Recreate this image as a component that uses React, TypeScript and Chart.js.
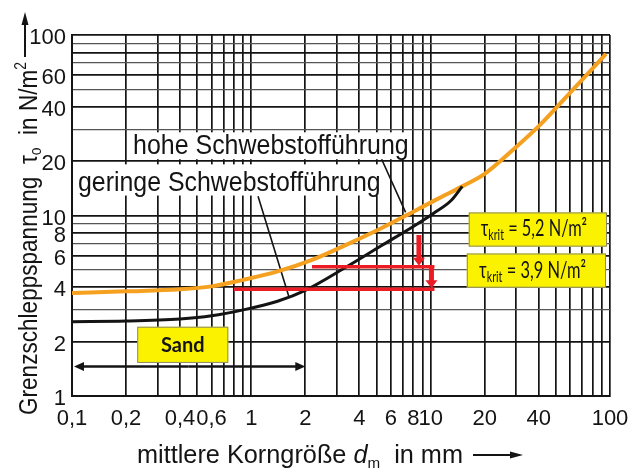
import { useEffect, useRef } from 'react';
import { Chart, registerables } from 'chart.js';

Chart.register(...registerables);

// Mittlere Korngröße d_m [mm] und Grenzschleppspannung τ0 [N/m²]
const HOHE_D = [0.1, 0.2, 0.4, 0.6, 0.9, 1.4, 2.2, 3.4, 5.3, 8, 11, 15, 20, 29, 41, 60, 95];
const HOHE_TAU = [3.72, 3.8, 3.9, 4.05, 4.4, 4.9, 5.7, 6.9, 8.5, 10.5, 12.4, 14.5, 17, 23.3, 32, 48, 78.5];
const GERINGE_D = [0.1, 0.2, 0.4, 0.6, 0.9, 1.4, 2, 3.4, 5.3, 8, 10.4, 13, 15];
const GERINGE_TAU = [2.58, 2.6, 2.67, 2.78, 3.0, 3.35, 3.85, 5.2, 6.8, 8.7, 10.3, 12.1, 14.5];

// Kritische Schubspannungen
const TAU_KRIT = [5.2, 3.9];
const TAU_KRIT_TEXT = ['5,2', '3,9'];
const TAU_KRIT_FROM_D = [2.18, 0.8];
const TAU_KRIT_TO_D = 10.5;
const ARROW_D = [8.6, 10.1];
const ARROW_START_TAU = 7.8;

// Sandbereich
const SAND_RANGE = [0.1, 2];

// Gitter und Beschriftung
const D_GRID = [
  0.1, 0.2, 0.3, 0.4, 0.5, 0.6, 0.7, 0.8, 0.9,
  1, 2, 3, 4, 5, 6, 7, 8, 9,
  10, 20, 30, 40, 50, 60, 70, 80, 90, 100,
];
const D_LABELS = [0.1, 0.2, 0.4, 0.6, 1, 2, 4, 6, 8, 10, 20, 40, 100];
const TAU_GRID = [1, 2, 3, 4, 5, 6, 7, 8, 9, 10, 20, 30, 40, 50, 60, 70, 80, 90, 100];
const TAU_LABELS = [1, 2, 4, 6, 8, 10, 20, 40, 60, 100];

const SANS = '"Liberation Sans", Arial, sans-serif';
const NARROW = '"Liberation Sans Narrow", "Liberation Sans", sans-serif';
const BOX_FONT = 'Lato, "Open Sans", "DejaVu Sans", sans-serif';
const INK = '#141414';
const RED = '#ec1c24';
const YELLOW = '#fbf200';
const ORANGE = '#f5a01e';

type Run = { t: string; size: number; dy?: number; italic?: boolean; bold?: boolean };

function runFont(r: Run, fam: string) {
  return `${r.italic ? 'italic ' : ''}${r.bold ? 'bold ' : ''}${r.size}px ${fam}`;
}

// Draws a sequence of text runs on one baseline, optionally squeezed to a width
function drawRuns(ctx: CanvasRenderingContext2D, runs: Run[], fam: string, x: number, y: number, width?: number) {
  const ws = runs.map((r) => {
    ctx.font = runFont(r, fam);
    return ctx.measureText(r.t).width;
  });
  const total = ws.reduce((a, b) => a + b, 0);
  const s = width ? width / total : 1;
  ctx.save();
  ctx.translate(x, y);
  ctx.scale(s, 1);
  ctx.textAlign = 'left';
  ctx.textBaseline = 'alphabetic';
  let cx = 0;
  runs.forEach((r, i) => {
    ctx.font = runFont(r, fam);
    ctx.fillText(r.t, cx, r.dy || 0);
    cx += ws[i];
  });
  ctx.restore();
}

function arrow(
  ctx: CanvasRenderingContext2D,
  x0: number, y0: number, x1: number, y1: number,
  width: number, head: number, headW: number, color: string,
) {
  const ang = Math.atan2(y1 - y0, x1 - x0);
  const len = Math.hypot(x1 - x0, y1 - y0);
  ctx.save();
  ctx.translate(x0, y0);
  ctx.rotate(ang);
  ctx.strokeStyle = color;
  ctx.lineWidth = width;
  ctx.lineCap = 'butt';
  ctx.beginPath();
  ctx.moveTo(0, 0);
  ctx.lineTo(len - head + 1, 0);
  ctx.stroke();
  ctx.fillStyle = color;
  ctx.beginPath();
  ctx.moveTo(len, 0);
  ctx.lineTo(len - head, headW / 2);
  ctx.lineTo(len - head, -headW / 2);
  ctx.closePath();
  ctx.fill();
  ctx.restore();
}

function fmt(v: number) {
  return String(v).replace('.', ',');
}

function significand(v: number) {
  return Math.round(v / Math.pow(10, Math.floor(Math.log10(v) + 1e-9)));
}

const overlay = {
  id: 'overlay',
  beforeDatasetsDraw(chart: any) {
    const { ctx } = chart;
    const X = (v: number) => chart.scales.x.getPixelForValue(v);
    const Y = (v: number) => chart.scales.y.getPixelForValue(v);
    ctx.save();
    // label backgrounds
    ctx.fillStyle = '#ffffff';
    ctx.fillRect(X(0.2055), Y(28.9), X(7.73) - X(0.2055), Y(20.5) - Y(28.9));
    ctx.fillRect(X(0.1013), Y(19.2), X(5.82) - X(0.1013), Y(12.9) - Y(19.2));
    ctx.fillStyle = INK;
    drawRuns(ctx, [{ t: 'hohe Schwebstofführung', size: 27 }], SANS, X(0.219), Y(21.8), X(7.54) - X(0.219));
    drawRuns(ctx, [{ t: 'geringe Schwebstofführung', size: 27 }], SANS, X(0.108), Y(13.6), X(5.26) - X(0.108));
    // leader lines
    ctx.strokeStyle = INK;
    ctx.lineWidth = 1.6;
    ctx.beginPath();
    ctx.moveTo(X(5.33), Y(20.5));
    ctx.lineTo(X(7.25), Y(10.4));
    ctx.moveTo(X(1.09), Y(12.8));
    ctx.lineTo(X(1.62), Y(3.55));
    ctx.stroke();
    ctx.restore();
  },
  afterDatasetsDraw(chart: any) {
    const { ctx } = chart;
    const X = (v: number) => chart.scales.x.getPixelForValue(v);
    const Y = (v: number) => chart.scales.y.getPixelForValue(v);
    ctx.save();

    // critical shear stress lines
    ctx.strokeStyle = RED;
    ctx.lineWidth = 3.5;
    TAU_KRIT.forEach((t, i) => {
      ctx.beginPath();
      ctx.moveTo(X(TAU_KRIT_FROM_D[i]), Y(t));
      ctx.lineTo(X(TAU_KRIT_TO_D), Y(t));
      ctx.stroke();
    });
    arrow(ctx, X(ARROW_D[0]), Y(ARROW_START_TAU), X(ARROW_D[0]), Y(TAU_KRIT[0]) - 1, 5, 8, 12, RED);
    arrow(ctx, X(ARROW_D[1]), Y(TAU_KRIT[0]), X(ARROW_D[1]), Y(TAU_KRIT[1]) - 1, 5, 8, 12, RED);

    // value boxes
    const boxes = [
      { d0: 16.3, d1: 96.2, t0: 6.72, t1: 10.4, td0: 19.0, td1: 74.5, base: 7.84 },
      { d0: 15.9, d1: 95, t0: 3.98, t1: 6.16, td0: 18.6, td1: 73.5, base: 4.58 },
    ];
    boxes.forEach((b, i) => {
      const x0 = X(b.d0), x1 = X(b.d1), y0 = Y(b.t1), y1 = Y(b.t0);
      ctx.fillStyle = YELLOW;
      ctx.fillRect(x0, y0, x1 - x0, y1 - y0);
      ctx.strokeStyle = '#8a8a6a';
      ctx.lineWidth = 1;
      ctx.strokeRect(x0 + 0.5, y0 + 0.5, x1 - x0 - 1, y1 - y0 - 1);
      ctx.fillStyle = INK;
      drawRuns(ctx, [
        { t: 'τ', size: 23 },
        { t: 'krit', size: 15, dy: 4 },
        { t: ` = ${TAU_KRIT_TEXT[i]} N/m²`, size: 23 },
      ], BOX_FONT, X(b.td0), Y(b.base) + 1, X(b.td1) - X(b.td0));
    });

    // sand range
    const sx0 = X(0.231), sx1 = X(0.744), sy0 = Y(2.42), sy1 = Y(1.525);
    ctx.fillStyle = YELLOW;
    ctx.fillRect(sx0, sy0, sx1 - sx0, sy1 - sy0);
    ctx.strokeStyle = '#8a8a6a';
    ctx.lineWidth = 1;
    ctx.strokeRect(sx0 + 0.5, sy0 + 0.5, sx1 - sx0 - 1, sy1 - sy0 - 1);
    ctx.fillStyle = INK;
    ctx.font = `bold 20px ${BOX_FONT}`;
    ctx.textAlign = 'center';
    ctx.textBaseline = 'middle';
    ctx.fillText('Sand', (sx0 + sx1) / 2, (sy0 + sy1) / 2 + 1);
    const ay = Y(1.455);
    const mid = (X(SAND_RANGE[0]) + X(SAND_RANGE[1])) / 2;
    arrow(ctx, mid, ay, X(SAND_RANGE[0]) + 2, ay, 2.5, 10, 9, INK);
    arrow(ctx, mid, ay, X(SAND_RANGE[1]), ay, 2.5, 10, 9, INK);
    ctx.restore();
  },
  afterDraw(chart: any) {
    const { ctx, chartArea } = chart;
    ctx.save();
    ctx.fillStyle = INK;
    // x axis title
    const bx = chartArea.left + 65;
    const by = chartArea.bottom + 67;
    drawRuns(ctx, [
      { t: 'mittlere Korngröße ', size: 25 },
      { t: 'd', size: 25, italic: true },
      { t: 'm', size: 15, dy: 5 },
      { t: '  in mm', size: 25 },
    ], SANS, bx, by, 326);
    arrow(ctx, 473, by - 8, 523, by - 8, 2, 13, 7, INK);

    // y axis title (rotated)
    ctx.save();
    ctx.translate(chartArea.left - 35, chartArea.bottom + 19);
    ctx.rotate(-Math.PI / 2);
    drawRuns(ctx, [
      { t: 'Grenzschleppspannung  ', size: 26 },
      { t: 'τ', size: 26 },
      { t: 'o', size: 16, dy: 4 },
      { t: '  in N/m', size: 26 },
      { t: '2', size: 16, dy: -11 },
    ], SANS, 0, 0, 353);
    ctx.restore();
    arrow(ctx, 25, chartArea.top + 22, 25, chartArea.top - 23, 2, 13, 7, INK);
    ctx.restore();
  },
};

export default function App() {
  const ref = useRef<HTMLCanvasElement>(null);

  useEffect(() => {
    const canvas = ref.current;
    if (!canvas) return;
    const dashed = (c: any) => c.tick && c.scale.axis === 'y' && significand(c.tick.value) % 2 === 1 && significand(c.tick.value) !== 1;
    const gridColor = (c: any) => (dashed(c) ? '#555' : INK);
    const gridWidth = (c: any) => (dashed(c) ? 1.2 : 1.7);

    const chart = new Chart(canvas, {
      type: 'line',
      data: {
        datasets: [
          {
            label: 'geringe Schwebstofführung',
            data: GERINGE_D.map((d, i) => ({ x: d, y: GERINGE_TAU[i] })),
            borderColor: INK,
            borderWidth: 3,
            pointRadius: 0,
            cubicInterpolationMode: 'monotone',
            fill: false,
          },
          {
            label: 'hohe Schwebstofführung',
            data: HOHE_D.map((d, i) => ({ x: d, y: HOHE_TAU[i] })),
            borderColor: ORANGE,
            borderWidth: 4,
            pointRadius: 0,
            cubicInterpolationMode: 'monotone',
            fill: false,
          },
        ],
      },
      options: {
        responsive: false,
        animation: false,
        devicePixelRatio: 1,
        layout: { padding: { top: 35, right: 20, left: 0, bottom: 0 } },
        plugins: { legend: { display: false }, tooltip: { enabled: false } },
        scales: {
          x: {
            type: 'logarithmic',
            position: 'bottom',
            min: 0.1,
            max: 100,
            afterBuildTicks: (s: any) => {
              s.ticks = D_GRID.map((v) => ({ value: v }));
            },
            afterFit: (s: any) => {
              s.height = 72;
              s.paddingLeft = 0;
              s.paddingRight = 0;
            },
            ticks: {
              autoSkip: false,
              maxRotation: 0,
              padding: 10,
              color: INK,
              font: { family: NARROW, size: 22 },
              callback: (v: any) => (D_LABELS.includes(Number(v)) ? fmt(Number(v)) : ''),
            },
            grid: { color: gridColor, lineWidth: gridWidth, drawTicks: false },
            border: { color: INK, width: 2 },
          },
          y: {
            type: 'logarithmic',
            position: 'left',
            min: 1,
            max: 100,
            afterBuildTicks: (s: any) => {
              s.ticks = TAU_GRID.map((v) => ({ value: v }));
            },
            afterFit: (s: any) => {
              s.width = 72;
              s.paddingTop = 0;
              s.paddingBottom = 0;
            },
            ticks: {
              autoSkip: false,
              padding: 6,
              labelOffset: 3,
              color: INK,
              font: { family: NARROW, size: 22 },
              callback: (v: any) => (TAU_LABELS.includes(Number(v)) ? fmt(Number(v)) : ''),
            },
            grid: { color: gridColor, lineWidth: gridWidth, drawTicks: false },
            border: { color: INK, width: 2 },
          },
        },
      } as any,
      plugins: [overlay],
    });
    return () => chart.destroy();
  }, []);

  return (
    <div style={{ position: 'fixed', left: 0, top: 0, width: 630, height: 468, background: '#fff' }}>
      <canvas ref={ref} width={630} height={468} style={{ display: 'block', width: 630, height: 468 }} />
    </div>
  );
}
